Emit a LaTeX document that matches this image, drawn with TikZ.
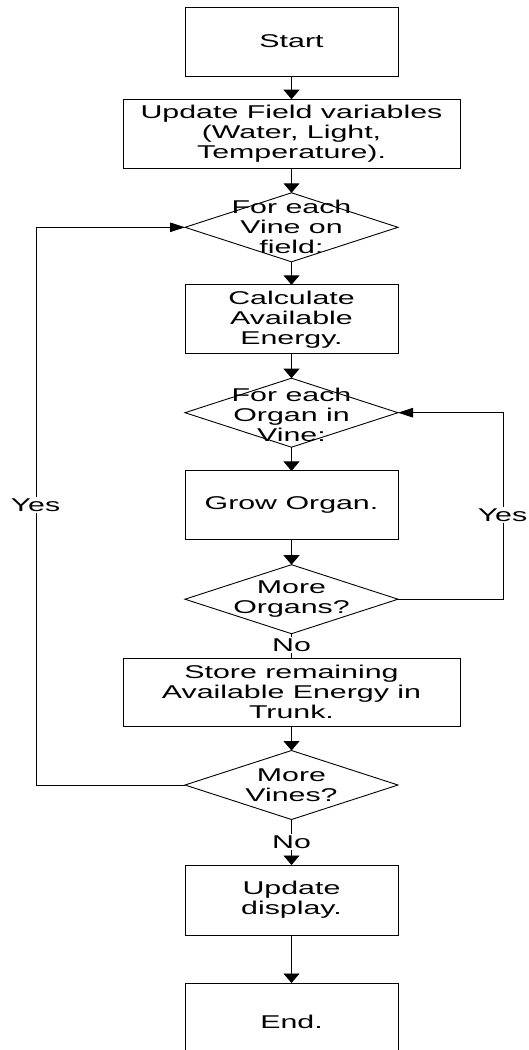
\documentclass[tikz,border=0pt]{standalone}
\usepackage{fontspec}
\setmainfont{Liberation Sans}[FakeStretch=1.64]
\usetikzlibrary{shapes.geometric,arrows.meta}
\begin{document}
\begin{tikzpicture}[x=1pt,y=-1pt,
  lab/.style={align=center, font=\fontsize{18.5}{20}\selectfont, inner sep=0pt},
  box/.style={lab, draw, line width=0.9pt, minimum width=213pt, minimum height=69pt, outer sep=0pt},
  widebox/.style={box, minimum width=337pt},
  dia/.style={draw, diamond, line width=0.9pt, minimum width=213pt, minimum height=69pt, inner sep=0pt, outer sep=0pt},
  arrv/.style={-{Triangle[length=9.5pt,width=16pt]}, line width=0.9pt},
  arrh/.style={-{Triangle[length=15pt,width=9.5pt]}, line width=0.9pt},
  lnk/.style={line width=0.9pt},
  tag/.style={lab, fill=white, inner sep=1.5pt}
]
\useasboundingbox (0,0) rectangle (528,1050);
\node[box] (start) at (291.5,41.5) {Start};
\node[widebox] (upd) at (291.5,133.7) {Update Field variables\\(Water, Light,\\Temperature).};
\node[dia] (d1) at (291.5,227.3) {};
\node[lab] (d1t) at (d1) {For each\\Vine on\\field:};
\node[box] (calc) at (291.5,319.3) {Calculate\\Available\\Energy.};
\node[dia] (d2) at (291.5,412.7) {};
\node[lab] (d2t) at (291.5,414.5) {For each\\Organ in\\Vine:};
\node[box] (grow) at (291.5,505.4) {Grow Organ.};
\node[dia] (d3) at (291.5,599.2) {};
\node[lab] (d3t) at (d3) {More\\Organs?};
\node[widebox, minimum height=68pt] (store) at (291.5,692) {Store remaining\\Available Energy in\\Trunk.};
\node[dia] (d4) at (291.5,785) {};
\node[lab] (d4t) at (d4) {More\\Vines?};
\node[box, minimum height=70pt] (updd) at (291.5,900) {Update\\display.};
\node[box, minimum height=78pt] (end) at (291.5,1022) {End.};

\draw[arrv] (start) -- (upd);
\draw[arrv] (upd) -- (d1);
\draw[arrv] (d1) -- (calc);
\draw[arrv] (calc) -- (d2);
\draw[arrv] (d2) -- (grow);
\draw[arrv] (grow) -- (d3);
\draw[lnk] (d3.south) -- (store.north);
\draw[arrv] (store) -- (d4);
\draw[arrv] (d4.south) -- (updd.north);
\draw[arrv] (updd) -- (end);
\draw[arrh] (d3.east) -- ++(105,0) |- (d2.east);
\draw[arrh] (d4.west) -- ++(-149,0) |- (d1.west);

\node[tag] (no1) at (291.5,645) {No};
\node[tag] (no2) at (291.5,842) {No};
\node[tag] (yesr) at (502.5,515) {Yes};
\node[tag] (yesl) at (35.5,505) {Yes};
\end{tikzpicture}
\end{document}
